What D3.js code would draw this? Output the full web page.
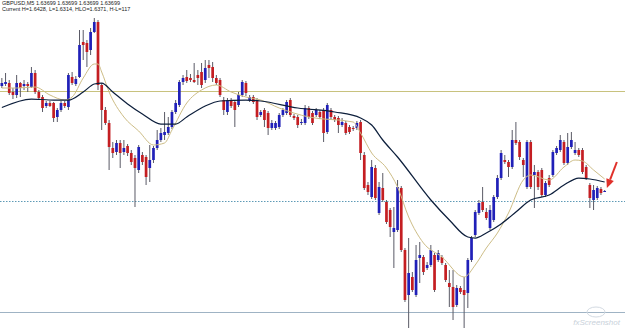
<!DOCTYPE html>
<html>
<head>
<meta charset="utf-8">
<script src="https://cdn.jsdelivr.net/npm/d3@7"></script>
<style>
  body { margin: 0; background: #fff; }
  #chart { width: 625px; height: 329px; position: relative; }
  .hdr { font-family: "Liberation Sans", Arial, sans-serif; font-size: 5.5px; fill: #222; }
  .wm { font-family: "Liberation Sans", Arial, sans-serif; font-size: 8px; font-style: italic; fill: #c9d1da; }
</style>
</head>
<body>
<div id="chart"></div>
<script>
// GBPUSD M5 candles (oldest first)
const openPrices = [
  1.64056, 1.64064, 1.64068, 1.64032, 1.64020, 1.64068, 1.64056, 1.64064,
  1.64052, 1.64108, 1.64032, 1.64012, 1.63976, 1.63988, 1.63988, 1.63932,
  1.63960, 1.63988, 1.63972, 1.64092, 1.64064, 1.64092, 1.64232, 1.64228,
  1.64200, 1.64272, 1.64312, 1.64060, 1.63960, 1.63908, 1.63808, 1.63792,
  1.63828, 1.63792, 1.63816, 1.63788, 1.63768, 1.63720, 1.63780, 1.63772,
  1.63728, 1.63760, 1.63808, 1.63840, 1.63860, 1.63868, 1.63892, 1.63952,
  1.63980, 1.64072, 1.64092, 1.64088, 1.64080, 1.64100, 1.64112, 1.64080,
  1.64140, 1.64132, 1.64088, 1.64080, 1.64000, 1.63952, 1.64000, 1.63992,
  1.63980, 1.64020, 1.64068, 1.64000, 1.64012, 1.64000, 1.63940, 1.63960,
  1.63948, 1.63888, 1.63888, 1.63892, 1.63940, 1.63948, 1.64000, 1.63936,
  1.63932, 1.63908, 1.63908, 1.63968, 1.63948, 1.63940, 1.63952, 1.63960,
  1.63872, 1.63960, 1.63932, 1.63928, 1.63900, 1.63908, 1.63892, 1.63888,
  1.63888, 1.63912, 1.63780, 1.63660, 1.63612, 1.63728, 1.63548, 1.63648,
  1.63592, 1.63560, 1.63472, 1.63480, 1.63648, 1.63400, 1.63220, 1.63292,
  1.63220, 1.63368, 1.63372, 1.63328, 1.63340, 1.63380, 1.63360, 1.63372,
  1.63340, 1.63268, 1.63252, 1.63180, 1.63248, 1.63240, 1.63228, 1.63360,
  1.63460, 1.63548, 1.63592, 1.63552, 1.63488, 1.63520, 1.63612, 1.63688,
  1.63760, 1.63752, 1.63732, 1.63840, 1.63832, 1.63760, 1.63652, 1.63832,
  1.63700, 1.63712, 1.63720, 1.63620, 1.63688, 1.63700, 1.63788, 1.63800,
  1.63832, 1.63748, 1.63812, 1.63788, 1.63800, 1.63800, 1.63732, 1.63660,
  1.63600, 1.63608, 1.63644, 1.63636
];

const highPrices = [
  1.64088, 1.64108, 1.64080, 1.64048, 1.64100, 1.64072, 1.64080, 1.64072,
  1.64132, 1.64120, 1.64040, 1.64020, 1.63996, 1.63996, 1.63992, 1.63968,
  1.63996, 1.63996, 1.64108, 1.64112, 1.64096, 1.64280, 1.64280, 1.64240,
  1.64288, 1.64328, 1.64320, 1.64068, 1.63972, 1.63920, 1.63832, 1.63840,
  1.63840, 1.63840, 1.63824, 1.63800, 1.63780, 1.63820, 1.63792, 1.63780,
  1.63820, 1.63816, 1.63880, 1.63888, 1.63952, 1.63932, 1.63960, 1.64000,
  1.64080, 1.64100, 1.64120, 1.64104, 1.64148, 1.64120, 1.64148, 1.64160,
  1.64160, 1.64152, 1.64100, 1.64088, 1.64012, 1.64008, 1.64008, 1.64000,
  1.64032, 1.64080, 1.64076, 1.64020, 1.64020, 1.64008, 1.63960, 1.63968,
  1.63956, 1.63920, 1.63916, 1.63948, 1.63968, 1.64000, 1.64008, 1.63944,
  1.63940, 1.63924, 1.63980, 1.63976, 1.63956, 1.63968, 1.63960, 1.63968,
  1.63988, 1.63968, 1.63940, 1.63936, 1.63928, 1.63916, 1.63900, 1.63896,
  1.63916, 1.63920, 1.63792, 1.63672, 1.63760, 1.63740, 1.63672, 1.63708,
  1.63600, 1.63568, 1.63572, 1.63680, 1.63656, 1.63408, 1.63448, 1.63312,
  1.63420, 1.63432, 1.63380, 1.63352, 1.63420, 1.63388, 1.63400, 1.63380,
  1.63348, 1.63320, 1.63320, 1.63260, 1.63256, 1.63292, 1.63368, 1.63456,
  1.63560, 1.63600, 1.63652, 1.63568, 1.63580, 1.63620, 1.63700, 1.63800,
  1.63780, 1.63760, 1.63880, 1.63912, 1.63840, 1.63768, 1.63840, 1.63840,
  1.63740, 1.63720, 1.63728, 1.63676, 1.63700, 1.63800, 1.63816, 1.63860,
  1.63840, 1.63868, 1.63872, 1.63832, 1.63808, 1.63808, 1.63740, 1.63668,
  1.63660, 1.63656, 1.63652, 1.63640
];

const lowPrices = [
  1.64048, 1.64056, 1.64020, 1.64004, 1.64008, 1.64012, 1.64040, 1.64032,
  1.64048, 1.64024, 1.64000, 1.63952, 1.63968, 1.63972, 1.63912, 1.63912,
  1.63952, 1.63968, 1.63960, 1.64060, 1.64056, 1.64088, 1.64160, 1.64132,
  1.64180, 1.64268, 1.64040, 1.63880, 1.63900, 1.63720, 1.63768, 1.63780,
  1.63728, 1.63780, 1.63776, 1.63740, 1.63572, 1.63708, 1.63740, 1.63660,
  1.63672, 1.63748, 1.63800, 1.63832, 1.63840, 1.63860, 1.63884, 1.63944,
  1.63972, 1.64060, 1.64068, 1.64072, 1.64068, 1.64060, 1.64048, 1.64068,
  1.64088, 1.64072, 1.64060, 1.64012, 1.63940, 1.63940, 1.63968, 1.63892,
  1.63972, 1.64012, 1.64016, 1.63992, 1.63984, 1.63920, 1.63932, 1.63892,
  1.63860, 1.63880, 1.63880, 1.63884, 1.63932, 1.63940, 1.63932, 1.63920,
  1.63888, 1.63900, 1.63900, 1.63924, 1.63900, 1.63932, 1.63924, 1.63832,
  1.63864, 1.63924, 1.63912, 1.63868, 1.63892, 1.63860, 1.63864, 1.63876,
  1.63880, 1.63760, 1.63640, 1.63620, 1.63604, 1.63600, 1.63540, 1.63592,
  1.63504, 1.63452, 1.63328, 1.63472, 1.63392, 1.63192, 1.63088, 1.63232,
  1.63212, 1.63268, 1.63300, 1.63320, 1.63332, 1.63232, 1.63352, 1.63340,
  1.63272, 1.63172, 1.63120, 1.63172, 1.63224, 1.63088, 1.63168, 1.63352,
  1.63452, 1.63540, 1.63552, 1.63520, 1.63480, 1.63512, 1.63604, 1.63680,
  1.63744, 1.63692, 1.63724, 1.63820, 1.63760, 1.63692, 1.63644, 1.63644,
  1.63568, 1.63640, 1.63612, 1.63612, 1.63652, 1.63692, 1.63780, 1.63792,
  1.63740, 1.63740, 1.63804, 1.63780, 1.63772, 1.63704, 1.63680, 1.63568,
  1.63560, 1.63600, 1.63620, 1.63632
];

const closePrices = [
  1.64068, 1.64072, 1.64028, 1.64020, 1.64068, 1.64048, 1.64064, 1.64056,
  1.64108, 1.64032, 1.64008, 1.63968, 1.63988, 1.63976, 1.63928, 1.63960,
  1.63988, 1.63976, 1.64100, 1.64068, 1.64084, 1.64220, 1.64220, 1.64192,
  1.64272, 1.64312, 1.64060, 1.63960, 1.63908, 1.63812, 1.63788, 1.63828,
  1.63788, 1.63808, 1.63788, 1.63752, 1.63728, 1.63812, 1.63752, 1.63692,
  1.63760, 1.63808, 1.63840, 1.63868, 1.63872, 1.63892, 1.63952, 1.63988,
  1.64072, 1.64088, 1.64076, 1.64080, 1.64072, 1.64088, 1.64060, 1.64128,
  1.64128, 1.64088, 1.64068, 1.64020, 1.63960, 1.64000, 1.63976, 1.63960,
  1.64020, 1.64072, 1.64028, 1.64012, 1.63992, 1.63932, 1.63952, 1.63920,
  1.63888, 1.63908, 1.63908, 1.63940, 1.63960, 1.63992, 1.63940, 1.63928,
  1.63900, 1.63912, 1.63968, 1.63932, 1.63908, 1.63960, 1.63932, 1.63868,
  1.63980, 1.63932, 1.63920, 1.63900, 1.63912, 1.63868, 1.63872, 1.63884,
  1.63908, 1.63788, 1.63648, 1.63632, 1.63732, 1.63608, 1.63652, 1.63600,
  1.63512, 1.63492, 1.63488, 1.63652, 1.63400, 1.63200, 1.63308, 1.63240,
  1.63360, 1.63380, 1.63312, 1.63340, 1.63400, 1.63240, 1.63388, 1.63348,
  1.63280, 1.63252, 1.63172, 1.63248, 1.63232, 1.63220, 1.63360, 1.63448,
  1.63552, 1.63588, 1.63560, 1.63528, 1.63560, 1.63612, 1.63688, 1.63788,
  1.63752, 1.63732, 1.63840, 1.63828, 1.63772, 1.63740, 1.63832, 1.63652,
  1.63712, 1.63652, 1.63620, 1.63668, 1.63660, 1.63792, 1.63808, 1.63840,
  1.63748, 1.63812, 1.63840, 1.63800, 1.63780, 1.63712, 1.63688, 1.63608,
  1.63640, 1.63648, 1.63628, 1.63636
];

// moving averages: [bar index, price]
const slowMa = [
  [0, 1.63970], [8, 1.64004], [14, 1.64000], [18, 1.64000], [22, 1.64032],
  [25, 1.64064], [27, 1.64068], [30, 1.64032], [34, 1.63984], [38, 1.63944],
  [43, 1.63904], [47, 1.63904], [50, 1.63932], [55, 1.63976], [59, 1.63996],
  [66, 1.64000], [70, 1.63996], [80, 1.63968], [90, 1.63952], [97, 1.63928],
  [100, 1.63900], [103, 1.63840], [107, 1.63772], [116, 1.63600], [121, 1.63520],
  [126, 1.63452], [128, 1.63448], [131, 1.63468], [135, 1.63504], [139, 1.63552],
  [143, 1.63600], [148, 1.63620], [152, 1.63660], [156, 1.63688], [159, 1.63684],
  [163, 1.63672]
];

const fastMa = [
  [0, 1.64048], [4, 1.64048], [9, 1.64052], [13, 1.64020], [17, 1.64000],
  [19, 1.64012], [22, 1.64088], [25, 1.64144], [26, 1.64144], [27, 1.64112],
  [29, 1.64032], [33, 1.63932], [37, 1.63876], [41, 1.63820], [44, 1.63828],
  [46, 1.63880], [50, 1.63988], [54, 1.64040], [58, 1.64060], [62, 1.64032],
  [66, 1.64012], [70, 1.64000], [75, 1.63968], [83, 1.63932], [95, 1.63912],
  [97, 1.63868], [100, 1.63788], [104, 1.63728], [107, 1.63652], [110, 1.63532],
  [114, 1.63428], [119, 1.63372], [125, 1.63292], [128, 1.63340], [131, 1.63408],
  [134, 1.63468], [137, 1.63548], [141, 1.63680], [143, 1.63700], [148, 1.63680],
  [152, 1.63732], [155, 1.63760], [157, 1.63756], [160, 1.63720], [163, 1.63684]
];

// horizontal levels drawn on the chart
const levelPrices = [1.64036, 1.63596, 1.63152];
const levelColors = ["#c8c27e", "#5e9ab6", "#9fb3c4"];
const levelDash = ["none", "1.5,1.5", "none"];

// hand-drawn arrow: [bar index, price] tail then tip
const arrowPts = [[166.3, 1.63752], [163.6, 1.63648]];

const headerLines = [
  "GBPUSD,M5  1.63699 1.63699 1.63699 1.63699",
  "Current H=1.6428, L=1.6314, HLO=1.6371, H-L=117"
];

const width = document.querySelector("#chart").clientWidth;
const height = document.querySelector("#chart").clientHeight;

const svg = d3.select("#chart")
  .append("svg")
  .attr("width", width)
  .attr("height", height);

const bars = openPrices.map(function(o, i) {
  return { i: i, o: o, h: highPrices[i], l: lowPrices[i], c: closePrices[i] };
});

const xScale = d3.scaleLinear()
  .domain([-0.5, 168.5])
  .range([0, width]);

const yScale = d3.scaleLinear()
  .domain([1.63084, 1.64400])
  .range([height, 0]);

// horizontal levels
svg.selectAll("line.level")
  .data(levelPrices)
  .enter()
  .append("line")
  .attr("class", "level")
  .attr("x1", 0)
  .attr("x2", width)
  .attr("y1", function(d) { return Math.round(yScale(d)) + 0.5; })
  .attr("y2", function(d) { return Math.round(yScale(d)) + 0.5; })
  .attr("stroke", function(d, i) { return levelColors[i]; })
  .attr("stroke-dasharray", function(d, i) { return levelDash[i]; })
  .attr("stroke-width", 1);

// wicks
svg.selectAll("line.wick")
  .data(bars)
  .enter()
  .append("line")
  .attr("class", "wick")
  .attr("x1", function(d) { return xScale(d.i); })
  .attr("x2", function(d) { return xScale(d.i); })
  .attr("y1", function(d) { return yScale(d.h); })
  .attr("y2", function(d) { return yScale(d.l); })
  .attr("stroke", "#5a5a66")
  .attr("stroke-width", 1);

// bodies
const bodyW = 2.7;
svg.selectAll("rect.body")
  .data(bars)
  .enter()
  .append("rect")
  .attr("class", "body")
  .attr("x", function(d) { return xScale(d.i) - bodyW / 2; })
  .attr("y", function(d) { return yScale(Math.max(d.o, d.c)); })
  .attr("width", bodyW)
  .attr("height", function(d) {
    return Math.max(1, Math.abs(yScale(d.o) - yScale(d.c)));
  })
  .attr("fill", function(d) {
    return d.c >= d.o ? "#2020b8" : "#c41e22";
  });

// moving averages
const maLine = d3.line()
  .x(function(d) { return xScale(d[0]); })
  .y(function(d) { return yScale(d[1]); })
  .curve(d3.curveMonotoneX);

svg.append("path")
  .datum(fastMa)
  .attr("d", maLine)
  .attr("fill", "none")
  .attr("stroke", "#cdbd86")
  .attr("stroke-width", 1);

svg.append("path")
  .datum(slowMa)
  .attr("d", maLine)
  .attr("fill", "none")
  .attr("stroke", "#0d1f3c")
  .attr("stroke-width", 1.25);

// red arrow
const ax1 = xScale(arrowPts[0][0]), ay1 = yScale(arrowPts[0][1]);
const ax2 = xScale(arrowPts[1][0]), ay2 = yScale(arrowPts[1][1]);
const ang = Math.atan2(ay2 - ay1, ax2 - ax1);
const headLen = 9, headW = 4;
const bx = ax2 - headLen * Math.cos(ang), by = ay2 - headLen * Math.sin(ang);

svg.append("line")
  .attr("x1", ax1).attr("y1", ay1)
  .attr("x2", bx).attr("y2", by)
  .attr("stroke", "#e0302a")
  .attr("stroke-width", 2);

svg.append("path")
  .attr("d", `M${ax2},${ay2}L${bx + headW * Math.sin(ang)},${by - headW * Math.cos(ang)}L${bx - headW * Math.sin(ang)},${by + headW * Math.cos(ang)}Z`)
  .attr("fill", "#e0302a");

// header text
svg.selectAll("text.hdr")
  .data(headerLines)
  .enter()
  .append("text")
  .attr("class", "hdr")
  .attr("x", 2)
  .attr("y", function(d, i) { return 5 + i * 6; })
  .text(function(d) { return d; });

// watermark
svg.append("ellipse")
  .attr("cx", 596).attr("cy", 312)
  .attr("rx", 9).attr("ry", 5)
  .attr("fill", "none")
  .attr("stroke", "#d3dae2")
  .attr("stroke-width", 1);

svg.append("text")
  .attr("class", "wm")
  .attr("x", 620)
  .attr("y", 325)
  .attr("text-anchor", "end")
  .text("fxScreenshot");
</script>
</body>
</html>
